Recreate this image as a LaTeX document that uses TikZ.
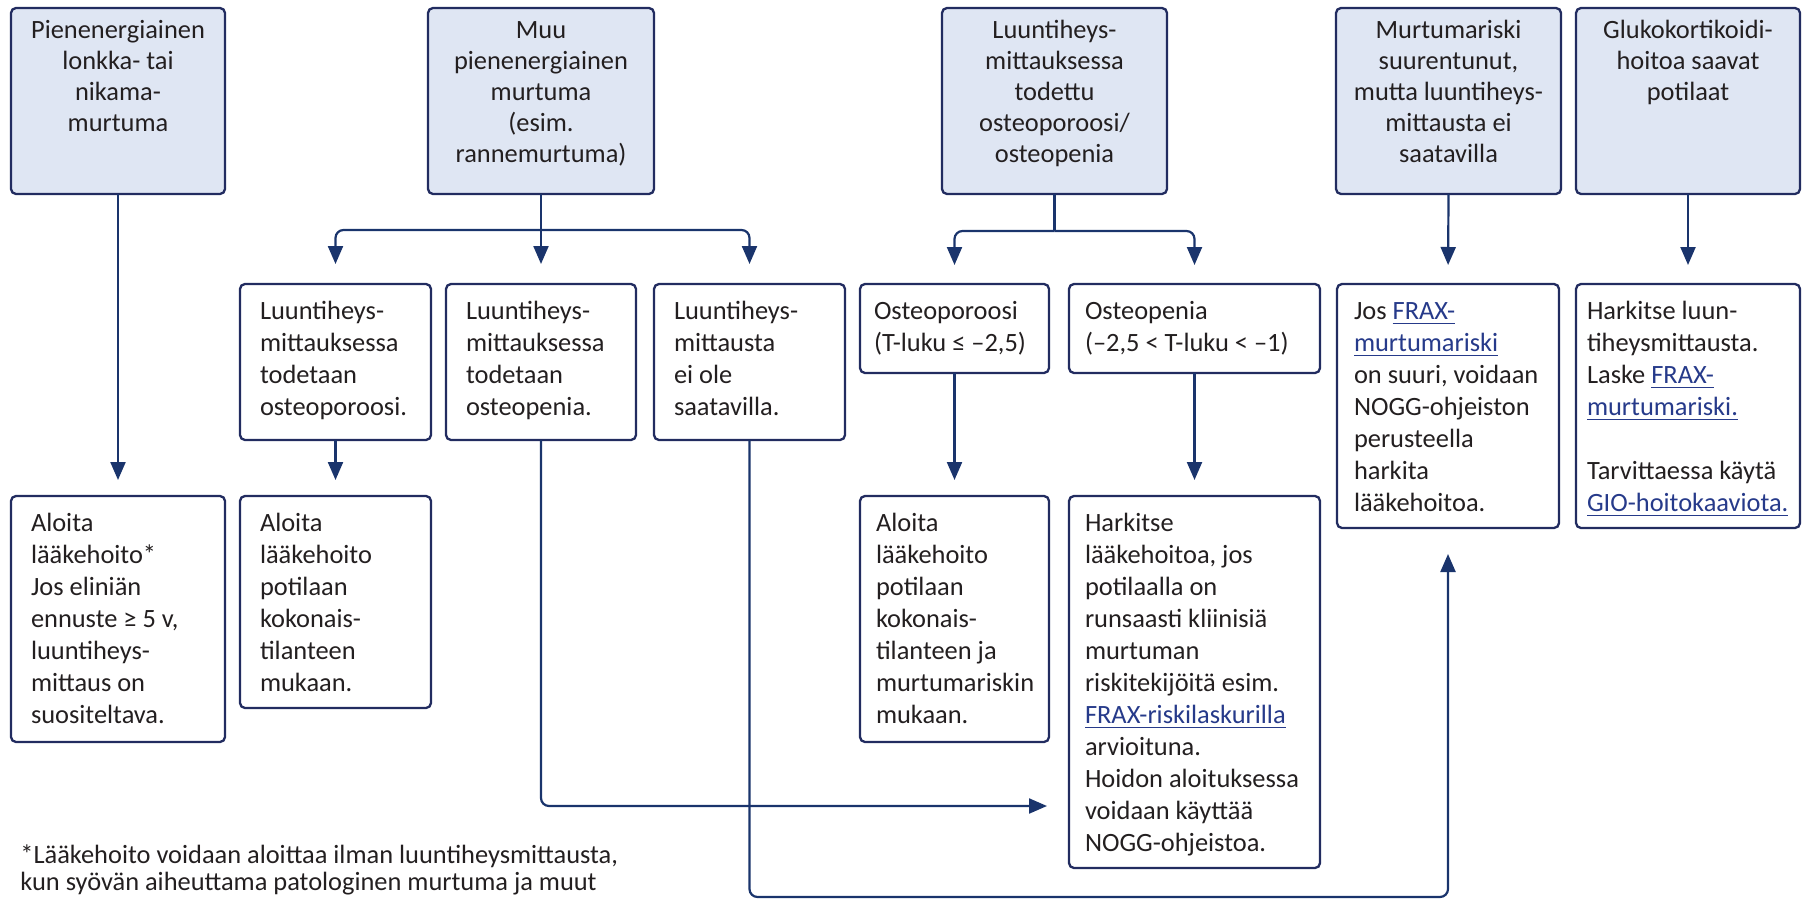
\documentclass[tikz,border=0pt]{standalone}
\usepackage{fontspec}
\setmainfont{Carlito}
\usetikzlibrary{arrows.meta,calc}
\definecolor{navy}{RGB}{34,44,96}
\definecolor{lineblue}{RGB}{26,52,108}
\definecolor{boxfill}{RGB}{223,230,243}
\definecolor{txt}{RGB}{35,31,32}
\definecolor{linkc}{RGB}{38,58,138}
\newcommand\lnk[1]{\leavevmode{\color{linkc}\setbox0\hbox{#1}\rlap{\rule[-2.6pt]{\wd0}{0.7pt}}\box0}}
\newcommand\toptxt[3]{\parbox[t][#2][t]{#1}{\centering\fontsize{13.2pt}{15.6pt}\selectfont\vspace*{4.1pt}\strut#3}}
\newcommand\subtxt[4]{\parbox[t][#2][t]{#1}{\raggedright\leftskip=#3\fontsize{13.2pt}{16pt}\selectfont\vspace*{6.3pt}\strut#4}}
\tikzset{
  basebox/.style={anchor=north west, inner sep=0pt, outer sep=0pt, draw=navy, line width=1.15pt, rounded corners=2.5pt, text=txt},
  topbox/.style={basebox, fill=boxfill},
  subbox/.style={basebox, fill=white},
  conn/.style={draw=lineblue, line width=1.1pt},
  arr/.style={conn, -{Triangle[width=7.5pt,length=9pt]}},
}
\begin{document}
\begin{tikzpicture}[x=0.5pt,y=-0.5pt]
\useasboundingbox (0,0) rectangle (1802,899);

% top row
\node[topbox] (A) at (11,8) {\toptxt{107pt}{93pt}{Pienenergiainen\\lonkka- tai\\nikama-\\murtuma}};
\node[topbox] (B) at (428,8) {\toptxt{113pt}{93pt}{Muu\\pienenergiainen\\murtuma\\(esim.\\rannemurtuma)}};
\node[topbox] (C) at (942,8) {\toptxt{112.5pt}{93pt}{Luuntiheys-\\mittauksessa\\todettu\\osteoporoosi/\\osteopenia}};
\node[topbox] (D) at (1336,8) {\toptxt{112.5pt}{93pt}{Murtumariski\\suurentunut,\\mutta luuntiheys-\\mittausta ei\\saatavilla}};
\node[topbox] (E) at (1576,8) {\toptxt{112pt}{93pt}{Glukokortikoidi-\\hoitoa saavat\\potilaat}};

% second row
\node[subbox] (b1) at (240,284) {\subtxt{95.5pt}{78pt}{10pt}{Luuntiheys-\\mittauksessa\\todetaan\\osteoporoosi.}};
\node[subbox] (b2) at (446,284) {\subtxt{95pt}{78pt}{10pt}{Luuntiheys-\\mittauksessa\\todetaan\\osteopenia.}};
\node[subbox] (b3) at (654,284) {\subtxt{95.5pt}{78pt}{10pt}{Luuntiheys-\\mittausta\\ei ole\\saatavilla.}};
\node[subbox] (c1) at (860,284) {\subtxt{94.5pt}{44.5pt}{7pt}{Osteoporoosi\\(T-luku ≤ –2,5)}};
\node[subbox] (c2) at (1069,284) {\subtxt{125.5pt}{44.5pt}{8pt}{Osteopenia\\(–2,5 < T-luku < –1)}};
\node[subbox] (d2) at (1337,284) {\subtxt{111pt}{122pt}{8.5pt}{Jos \lnk{FRAX-}\\\lnk{murtumariski}\\on suuri, voidaan\\NOGG-ohjeiston\\perusteella\\harkita\\lääkehoitoa.}};
\node[subbox] (e2) at (1576,284) {\subtxt{112pt}{122pt}{5.5pt}{Harkitse luun-\\tiheysmittausta.\\Laske \lnk{FRAX-}\\\lnk{murtumariski.}\\[16pt]Tarvittaessa käytä\\\lnk{GIO-hoitokaaviota.}}};

% third row
\node[subbox] (a3) at (11,496) {\subtxt{107pt}{123pt}{10pt}{Aloita\\lääkehoito*\\Jos eliniän\\ennuste ≥ 5 v,\\luuntiheys-\\mittaus on\\suositeltava.}};
\node[subbox] (b13) at (240,496) {\subtxt{95.5pt}{106pt}{10pt}{Aloita\\lääkehoito\\potilaan\\kokonais-\\tilanteen\\mukaan.}};
\node[subbox] (c13) at (860,496) {\subtxt{94.5pt}{123pt}{8pt}{Aloita\\lääkehoito\\potilaan\\kokonais-\\tilanteen ja\\murtumariskin\\mukaan.}};
\node[subbox] (c23) at (1069,496) {\subtxt{125.5pt}{186pt}{8pt}{Harkitse\\lääkehoitoa, jos\\potilaalla on\\runsaasti kliinisiä\\murtuman\\riskitekijöitä esim.\\\lnk{FRAX-riskilaskurilla}\\arvioituna.\\Hoidon aloituksessa\\voidaan käyttää\\NOGG-ohjeistoa.}};

% footnote
\node[anchor=base west, inner sep=0pt, text=txt] (fn) at (20,863) {\parbox[t]{420pt}{\fontsize{13.2pt}{13.8pt}\selectfont *Lääkehoito voidaan aloittaa ilman luuntiheysmittausta,\\kun syövän aiheuttama patologinen murtuma ja muut}};

% junction coordinates
\coordinate (Bj) at (541,230);
\coordinate (Cj) at (1054.5,231);
\coordinate (yb2) at (0,806);
\coordinate (yb3) at (0,897);
\coordinate (q) at (d2.south |- yb3);

% connectors
\draw[arr, shorten >=8pt] (A.south) -- (a3.north);
\draw[arr, shorten >=10pt] (B.south) -- (b2.north);
\draw[arr, shorten >=10pt, rounded corners=4pt] (Bj) -| (b1.north);
\draw[arr, shorten >=10pt, rounded corners=4pt] (Bj) -| (b3.north);
\draw[arr, shorten >=8pt] (b1.south) -- (b13.north);
\draw[arr, shorten >=11pt, rounded corners=4pt] (b2.south) |- (c23.west |- yb2);
\draw[arr, shorten >=13pt, rounded corners=4pt] (b3.south) |- (q) -- (d2.south);
\draw[conn] (C.south) -- (Cj);
\draw[arr, shorten >=9.5pt, rounded corners=4pt] (Cj) -| (c1.north);
\draw[arr, shorten >=9.5pt, rounded corners=4pt] (Cj) -| (c2.north);
\draw[arr, shorten >=8pt] (c1.south) -- (c13.north);
\draw[arr, shorten >=8pt] (c2.south) -- (c23.north);
\draw[arr, shorten >=9.5pt] (D.south) -- (d2.north);
\draw[arr, shorten >=9.5pt] (E.south) -- (e2.north);
\end{tikzpicture}
\end{document}
